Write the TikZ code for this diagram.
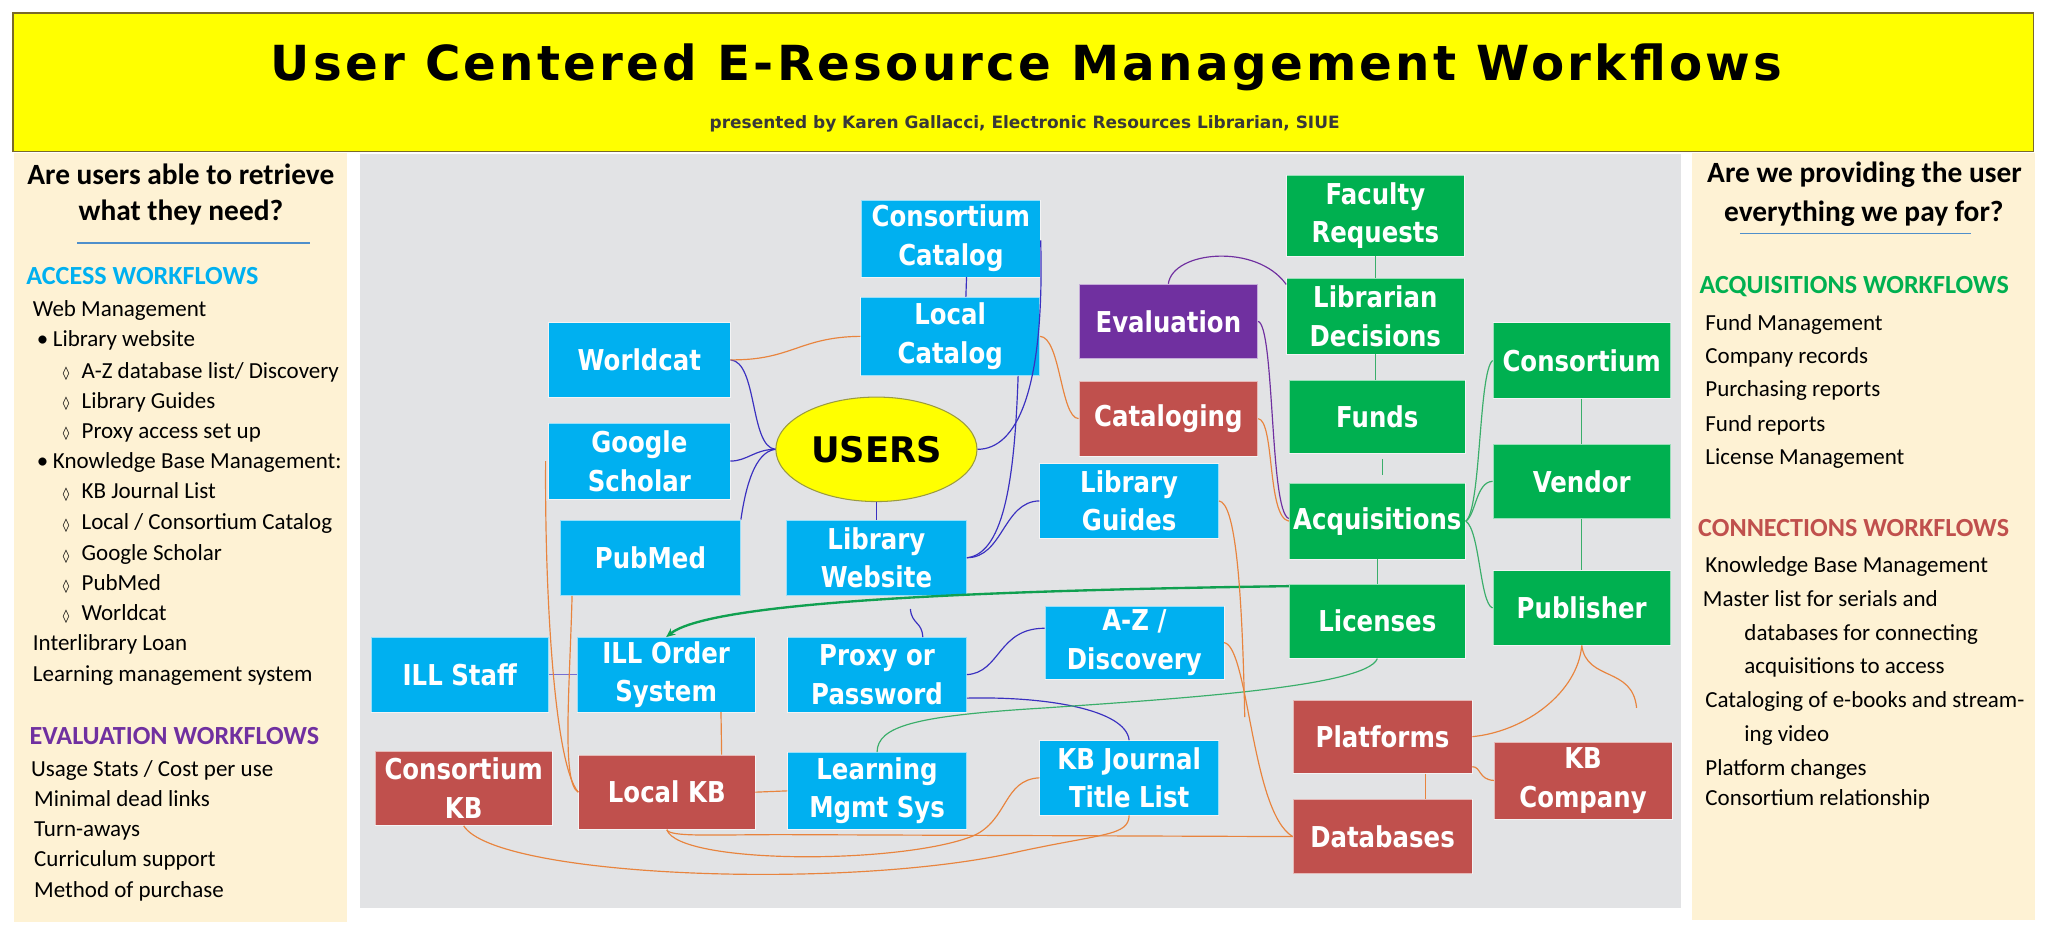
\documentclass[tikz,border=0pt]{standalone}
\usepackage{fontspec}
\setmainfont{Carlito}
\newfontfamily\dejavu{DejaVu Sans}
\newfontfamily\nodefont{DejaVu Sans}[FakeStretch=0.85]
\newfontfamily\titlefont{DejaVu Sans}[LetterSpace=6.7]
\usetikzlibrary{arrows.meta,shapes.geometric}
\definecolor{cyanbox}{HTML}{00B0F0}
\definecolor{greenbox}{HTML}{00B050}
\definecolor{redbox}{HTML}{C0504D}
\definecolor{purplebox}{HTML}{7030A0}
\definecolor{cream}{HTML}{FEF2D4}
\definecolor{panelgray}{HTML}{E2E3E5}
\definecolor{titleyellow}{HTML}{FFFF00}
\definecolor{olivebd}{HTML}{7A6A2A}
\definecolor{ellbd}{HTML}{9A9A40}
\definecolor{linkblue}{HTML}{3A30C0}
\definecolor{linkorange}{HTML}{E8843E}
\definecolor{linkgreen}{HTML}{3AAE6A}
\definecolor{arrowgreen}{HTML}{10A050}
\definecolor{rulecol}{HTML}{4F8FCB}
\newcommand\mybul{\makebox[12.3pt][l]{\textbullet}}
\newcommand\mydia{\makebox[14.3pt][l]{\raisebox{0.5pt}{\dejavu\fontsize{10pt}{10pt}\selectfont ◊}}}
\begin{document}
\begin{tikzpicture}[x=1pt,y=-1pt,
  box/.style={rectangle, draw=white, draw opacity=0.6, line width=0.5pt, text=white,
    font={\nodefont\bfseries\fontsize{22pt}{29.5pt}\selectfont}, align=center, inner sep=0pt,
    minimum width=137pt, minimum height=57pt},
  cbox/.style={box, fill=cyanbox},
  gbox/.style={box, fill=greenbox},
  rbox/.style={box, fill=redbox},
  pbox/.style={box, fill=purplebox},
  usersnode/.style={ellipse, fill=titleyellow, draw=ellbd, line width=0.8pt, inner sep=0pt,
    minimum width=154pt, minimum height=80pt, font={\dejavu\bfseries\fontsize{27pt}{30pt}\selectfont}},
  hd/.style={anchor=base, inner sep=0pt, font={\bfseries\fontsize{22.5pt}{26pt}\selectfont}},
  sec/.style={anchor=base west, inner sep=0pt, font={\bfseries\fontsize{20pt}{24pt}\selectfont}},
  lb/.style={anchor=base west, inner sep=0pt, font={\fontsize{17.6pt}{21pt}\selectfont}},
  bl/.style={draw=linkblue, line width=0.9pt},
  bl2/.style={draw=linkblue!70!white, line width=1.1pt},
  ol/.style={draw=linkorange, line width=0.9pt},
  gl/.style={draw=linkgreen, line width=0.9pt},
  pl/.style={draw=purplebox, line width=0.9pt}
]
\useasboundingbox (0,0) rectangle (1568,713);
\fill[white] (0,0) rectangle (1568,713);
% title banner
\filldraw[fill=titleyellow, draw=olivebd, line width=1.2pt] (10,10) rectangle (1557,116);
\node[anchor=base, inner sep=0pt, font={\titlefont\bfseries\fontsize{37pt}{40pt}\selectfont}] (title) at (786,61.5) {User Centered E-Resource Management Workflows};
\node[anchor=base, inner sep=0pt, text=black!78, font={\dejavu\bfseries\fontsize{13pt}{15pt}\selectfont}] (subtitle) at (784.5,98) {presented by Karen Gallacci, Electronic Resources Librarian, SIUE};
% panels
\fill[cream] (10.7,117) rectangle (265.5,705.7);
\fill[cream] (1295.3,117) rectangle (1558,704);
\fill[panelgray] (276,118) rectangle (1287,695.4);
% left panel
\node[hd] (lq1) at (138.5,141) {Are users able to retrieve};
\node[hd] (lq2) at (138.5,168.5) {what they need?};
\draw[rulecol, line width=1pt] (59,186) -- (237,186);
\node[sec, text=cyanbox] (acch) at (20,218) {ACCESS WORKFLOWS};
\node[lb] (l1) at (25,242.5) {Web Management};
\node[lb] (l2) at (28,265.6) {\mybul Library website};
\node[lb] (l3) at (48,289.6) {\mydia A-Z database list/ Discovery};
\node[lb] (l4) at (48,312.7) {\mydia Library Guides};
\node[lb] (l5) at (48,335.6) {\mydia Proxy access set up};
\node[lb] (l6) at (28,359) {\mybul Knowledge Base Management:};
\node[lb] (l7) at (48,382) {\mydia KB Journal List};
\node[lb] (l8) at (48,405.7) {\mydia Local / Consortium Catalog};
\node[lb] (l9) at (48,429.3) {\mydia Google Scholar};
\node[lb] (l10) at (48,452.3) {\mydia PubMed};
\node[lb] (l11) at (48,475.2) {\mydia Worldcat};
\node[lb] (l12) at (25,498.2) {Interlibrary Loan};
\node[lb] (l13) at (25,521.4) {Learning management system};
\node[sec, text=purplebox] (evh) at (22.5,569.7) {EVALUATION WORKFLOWS};
\node[lb] (e1) at (23.7,594.7) {Usage Stats / Cost per use};
\node[lb] (e2) at (26,617.7) {Minimal dead links};
\node[lb] (e3) at (26,640.6) {Turn-aways};
\node[lb] (e4) at (26,663.6) {Curriculum support};
\node[lb] (e5) at (26,687) {Method of purchase};
% right panel
\node[hd] (rq1) at (1427.5,140) {Are we providing the user};
\node[hd] (rq2) at (1427,169.7) {everything we pay for?};
\draw[rulecol, line width=1pt] (1332,179) -- (1509,179);
\node[sec, text=greenbox] (aqh) at (1301,224.6) {ACQUISITIONS WORKFLOWS};
\node[lb] (r1) at (1305.5,252.7) {Fund Management};
\node[lb] (r2) at (1305.5,278.2) {Company records};
\node[lb] (r3) at (1305.5,303.7) {Purchasing reports};
\node[lb] (r4) at (1305.5,330) {Fund reports};
\node[lb] (r5) at (1305.5,355.4) {License Management};
\node[sec, text=redbox] (cnh) at (1300,410.9) {CONNECTIONS WORKFLOWS};
\node[lb] (c1) at (1305.5,438.5) {Knowledge Base Management};
\node[lb] (c2) at (1303.6,464) {Master list for serials and};
\node[lb] (c3) at (1335.4,490) {databases for connecting};
\node[lb] (c4) at (1335.4,516) {acquisitions to access};
\node[lb] (c5) at (1305.5,541.6) {Cataloging of e-books and stream-};
\node[lb] (c6) at (1335.4,567.9) {ing video};
\node[lb] (c7) at (1305.5,593.4) {Platform changes};
\node[lb] (c8) at (1305.5,616.4) {Consortium relationship};
% diagram nodes
\node[cbox, minimum height=59pt] (cc) at (728,182.5) {Consortium\\Catalog};
\node[cbox, minimum height=60pt] (lc) at (727.5,257.5) {Local\\Catalog};
\node[cbox, minimum width=139pt] (wc) at (489.5,275.5) {Worldcat};
\node[cbox, minimum width=139pt, minimum height=58pt] (gs) at (489.5,353) {Google\\Scholar};
\node[cbox, minimum width=138pt, minimum height=58pt] (pm) at (498,427) {PubMed};
\node[usersnode] (users) at (671,344) {USERS};
\node[cbox, minimum width=138pt, minimum height=58pt] (lw) at (671,427) {Library\\Website};
\node[cbox] (lg) at (864.5,383.5) {Library\\Guides};
\node[pbox] (ev) at (894.5,246) {Evaluation};
\node[rbox] (cat) at (894.5,320.5) {Cataloging};
\node[gbox, minimum width=136pt, minimum height=62pt] (fr) at (1053,165) {Faculty\\Requests};
\node[gbox, minimum width=136pt, minimum height=58pt] (ld) at (1053,242) {Librarian\\Decisions};
\node[gbox, minimum width=135pt, minimum height=56pt] (fu) at (1054.5,319) {Funds};
\node[gbox, minimum width=135pt, minimum height=58pt] (acq) at (1054.5,399) {Acquisitions};
\node[gbox, minimum width=135pt] (lic) at (1054.5,475.5) {Licenses};
\node[gbox, minimum width=136pt, minimum height=58pt] (con) at (1211,276) {Consortium};
\node[gbox, minimum width=136pt] (ven) at (1211,368.5) {Vendor};
\node[gbox, minimum width=136pt] (pub) at (1211,465.5) {Publisher};
\node[cbox, minimum width=136pt] (ills) at (352,516.5) {ILL Staff};
\node[cbox, minimum width=136pt] (illo) at (510,516.5) {ILL Order\\System};
\node[cbox] (prx) at (671.5,516.5) {Proxy or\\Password};
\node[cbox, minimum height=56pt] (az) at (868.5,492) {A-Z /\\Discovery};
\node[rbox, minimum width=136pt] (ckb) at (355,603.5) {Consortium\\KB};
\node[rbox, minimum width=135pt] (lkb) at (510.5,606.5) {Local KB};
\node[cbox, minimum height=59pt] (lms) at (671.5,605.5) {Learning\\Mgmt Sys};
\node[cbox] (kbj) at (864.5,595.5) {KB Journal\\Title List};
\node[rbox, minimum height=56pt] (pla) at (1058.5,564) {Platforms};
\node[rbox, minimum width=136pt, minimum height=59pt] (kbc) at (1212,597.5) {KB\\Company};
\node[rbox] (db) at (1058.5,640.5) {Databases};
\coordinate (lgend) at (953,549);
\coordinate (pubend) at (1253,542);
% blue connectors
\draw[bl] ([xshift=12pt]cc.south) -- ([xshift=12pt]lc.north);
\draw[bl] (wc.east) .. controls (580,277) and (574,342) .. (users.west);
\draw[bl] (gs.east) .. controls (572,353) and (578,344) .. (users.west);
\draw[bl] (pm.north east) .. controls (571,372) and (578,346) .. (users.west);
\draw[bl] (users.east) .. controls (778,344) and (800,300) .. ([yshift=-1.5pt]cc.east);
\draw[bl] (users.south) -- (lw.north);
\draw[bl] ([xshift=52pt]lc.south) .. controls (777,360) and (770,424) .. (lw.east);
\draw[bl] (lw.east) .. controls (768,427) and (768,384) .. (lg.west);
\draw[bl] ([xshift=26pt,yshift=-10pt]lw.south) .. controls (698,478) and (706,476) .. ([xshift=35pt]prx.north);
\draw[bl2] (ills.east) -- (illo.west);
\draw[bl] (prx.east) .. controls (766,515) and (764,481) .. ([yshift=11pt]az.west);
\draw[bl] ([yshift=-18pt]prx.east) .. controls (800,533) and (862,543) .. (kbj.north);
% green connectors
\draw[gl] (fr.south) -- (ld.north);
\draw[gl] (ld.south) -- (ld.south |- fu.north);
\draw[gl] ([xshift=4pt,yshift=-4pt]fu.south) -- ([xshift=4pt,yshift=6pt]acq.north);
\draw[gl] (acq.south) -- (lic.north);
\draw[gl] (acq.east) .. controls (1134,390) and (1132,285) .. (con.west);
\draw[gl] (acq.east) .. controls (1130,394) and (1130,369) .. (ven.west);
\draw[gl] (acq.east) .. controls (1133,406) and (1133,462) .. (pub.west);
\draw[gl] (con.south) -- (ven.north);
\draw[gl] (ven.south) -- (pub.north);
\draw[gl] (lic.south) .. controls (1046,526) and (900,535) .. (800,542) .. controls (700,548) and (672,556) .. (lms.north);
\draw[arrowgreen, line width=1.8pt, -{Stealth[length=7pt,width=6pt]}] ([yshift=-2pt]lic.north west) .. controls (760,452) and (545,460) .. (illo.north);
% purple connectors
\draw[pl] (ev.north) .. controls (898,192) and (962,186) .. ([yshift=-5pt]ld.north west);
\draw[pl] (ev.east) .. controls (976,250) and (972,392) .. ([yshift=2pt]acq.west);
% orange connectors
\draw[ol] (wc.east) .. controls (606,276) and (612,258) .. (lc.west);
\draw[ol] (lc.east) .. controls (812,258) and (812,320) .. (cat.west);
\draw[ol] (cat.east) .. controls (976,322) and (970,396) .. (acq.west);
\draw[ol] (lg.east) .. controls (946,385) and (951,450) .. (lgend);
\draw[ol] (az.east) .. controls (956,495) and (958,622) .. (db.west);
\draw[ol] (pub.south) .. controls (1208,530) and (1168,560) .. (pla.east);
\draw[ol] (pub.south) .. controls (1215,522) and (1250,510) .. (pubend);
\draw[ol] ([yshift=-23pt]pla.east) .. controls (1134,587) and (1132,597) .. (kbc.west);
\draw[ol] ([xshift=33pt]pla.south) -- ([xshift=33pt]db.north);
\draw[ol] (lkb.south) .. controls (513,641) and (545,639) .. (600,639) -- (db.west);
\draw[ol] (lkb.south) .. controls (520,662) and (690,662) .. (745,640) .. controls (772,628) and (768,597) .. (kbj.west);
\draw[ol] (ckb.south) .. controls (380,672) and (650,682) .. (780,652) .. controls (845,638) and (864,640) .. (kbj.south);
\draw[ol] (lkb.east) -- (lms.west);
\draw[ol] ([xshift=42pt]illo.south) -- ([xshift=42pt]lkb.north);
\draw[ol] ([xshift=-2pt]gs.west) .. controls (417,450) and (424,585) .. (lkb.west);
\draw[ol] ([xshift=-60pt]pm.south) .. controls (436,530) and (430,600) .. (lkb.west);
\end{tikzpicture}
\end{document}
